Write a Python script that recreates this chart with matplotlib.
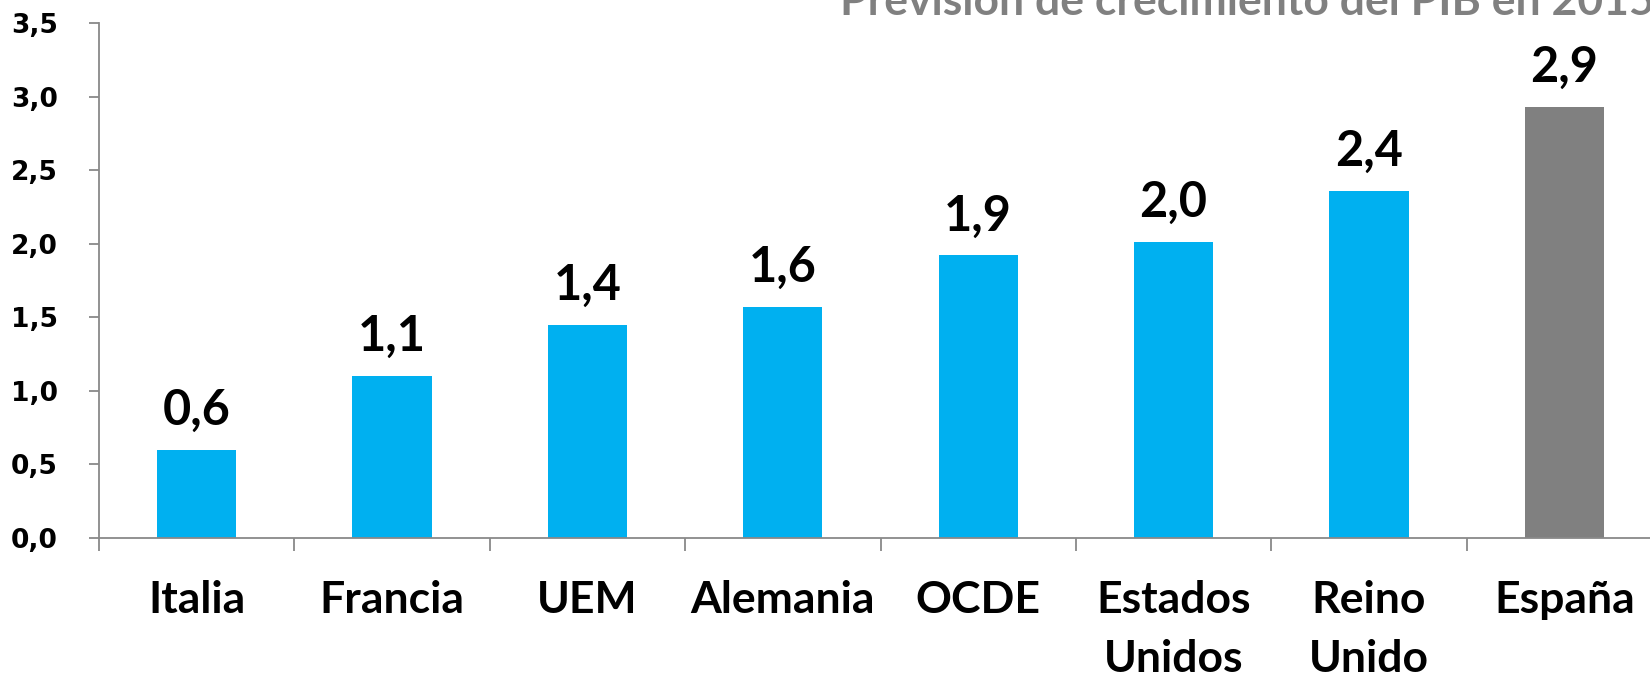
import matplotlib
matplotlib.use("Agg")
import matplotlib.pyplot as plt

categories = ["Italia", "Francia", "UEM", "Alemania", "OCDE", "Estados\nUnidos", "Reino\nUnido", "España"]
values = [0.60, 1.10, 1.45, 1.57, 1.92, 2.01, 2.36, 2.93]
value_labels = ["0,6", "1,1", "1,4", "1,6", "1,9", "2,0", "2,4", "2,9"]
colors = ["#00B0F0"] * 7 + ["#808080"]
yticks = [0.0, 0.5, 1.0, 1.5, 2.0, 2.5, 3.0, 3.5]
ytick_labels = ["0,0", "0,5", "1,0", "1,5", "2,0", "2,5", "3,0", "3,5"]
title = "Previsión de crecimiento del PIB en 2015"

W, H = 1650, 675
fig = plt.figure(figsize=(W / 100, H / 100), dpi=100)
ax = fig.add_axes([99 / W, 1 - 538 / H, 1563 / W, (538 - 23) / H])

x = range(len(categories))
bars = ax.bar(x, values, width=0.405, color=colors, zorder=2)

for i, (v, lab) in enumerate(zip(values, value_labels)):
    ax.annotate(lab, (i, v), xytext=(0, 18), textcoords="offset points",
                ha="center", va="baseline", fontsize=35, fontweight="bold",
                family=["Lato", "DejaVu Sans"], color="black")

ax.set_xlim(-0.5, len(categories) - 0.5)
ax.set_ylim(0, 3.5)
ax.set_yticks(yticks)
ax.set_yticklabels(ytick_labels, fontsize=19, fontweight="bold", family="DejaVu Sans")
ax.set_xticks([i - 0.5 for i in range(len(categories) + 1)])
ax.set_xticklabels([])
ax.set_xticks(list(x), minor=True)
ax.set_xticklabels(categories, minor=True, fontsize=32, fontweight="bold",
                   family=["Lato", "DejaVu Sans"], linespacing=1.6)

spine_c = "#898989"
for s in ["top", "right"]:
    ax.spines[s].set_visible(False)
for s in ["left", "bottom"]:
    ax.spines[s].set_color(spine_c)
    ax.spines[s].set_linewidth(1.3)
ax.tick_params(axis="y", which="major", direction="out", length=7.5, width=1.3,
               color=spine_c, pad=22)
ax.tick_params(axis="x", which="major", direction="out", length=9.5, width=1.3,
               color=spine_c)
ax.tick_params(axis="x", which="minor", length=0, pad=30)

fig.text(1.003, 1 - 15 / H, title, ha="right", va="baseline", fontsize=32,
         fontweight="bold", color="#808080", family=["Lato", "DejaVu Sans"])

fig.savefig("out.png", dpi=100)
